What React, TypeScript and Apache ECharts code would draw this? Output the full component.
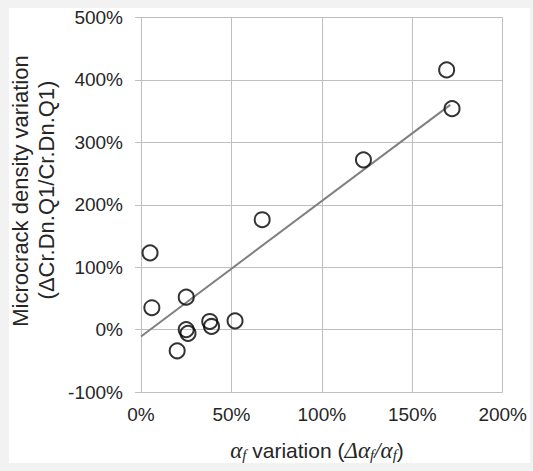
import React, { useEffect, useRef } from "react";
import * as echarts from "echarts";

const xValues = [5, 6, 25, 25, 26, 20, 38, 39, 52, 67, 123, 169, 172];
const yValues = [123, 35, 52, 0, -6, -34, 13, 5, 14, 176, 272, 416, 354];
const trendX = [0, 171];
const trendY = [-11, 360];
const xTicks = { min: 0, max: 200, interval: 50 };
const yTicks = { min: -100, max: 500, interval: 100 };

export default function App() {
  const ref = useRef<HTMLDivElement>(null);
  useEffect(() => {
    if (!ref.current) return;
    const chart = echarts.init(ref.current, null, { renderer: "svg" });
    const font = "'Liberation Sans', Arial, sans-serif";
    const serif = "'Liberation Serif', 'Times New Roman', serif";
    const gridColor = "#bfbfbf";
    chart.setOption({
      animation: false,
      backgroundColor: "#ffffff",
      grid: { left: 132, right: 22, top: 9, bottom: 71, containLabel: false },
      xAxis: {
        type: "value",
        min: xTicks.min,
        max: xTicks.max,
        interval: xTicks.interval,
        axisLine: { show: false },
        axisTick: { show: false },
        splitLine: { show: true, lineStyle: { color: gridColor, width: 1 } },
        axisLabel: {
          formatter: "{value}%",
          fontFamily: font,
          fontSize: 19,
          color: "#262626",
          margin: 13,
        },
      },
      yAxis: {
        type: "value",
        min: yTicks.min,
        max: yTicks.max,
        interval: yTicks.interval,
        axisLine: { show: true, lineStyle: { color: gridColor, width: 1 } },
        axisTick: { show: true, length: 6, lineStyle: { color: gridColor } },
        splitLine: { show: true, lineStyle: { color: gridColor, width: 1 } },
        axisLabel: {
          formatter: "{value}%",
          fontFamily: font,
          fontSize: 19,
          color: "#262626",
          margin: 18,
        },
      },
      graphic: [
        {
          type: "text",
          x: 11,
          y: 183,
          rotation: Math.PI / 2,
          style: {
            text: "Microcrack density variation",
            fontFamily: font,
            fontSize: 22,
            fill: "#262626",
            textAlign: "center",
            textVerticalAlign: "middle",
          },
        },
        {
          type: "text",
          x: 37,
          y: 182,
          rotation: Math.PI / 2,
          style: {
            text: "(ΔCr.Dn.Q1/Cr.Dn.Q1)",
            fontFamily: font,
            fontSize: 22,
            fill: "#262626",
            textAlign: "center",
            textVerticalAlign: "middle",
          },
        },
        {
          type: "text",
          x: 308,
          y: 442,
          style: {
            text:
              "{a|α}{s|f}{n| variation (}{a|Δα}{s|f}{a|/α}{s|f}{n|)}",
            textAlign: "center",
            textVerticalAlign: "middle",
            fill: "#262626",
            rich: {
              a: { fontFamily: serif, fontStyle: "italic", fontSize: 23, fill: "#262626" },
              s: {
                fontFamily: serif,
                fontStyle: "italic",
                fontSize: 15,
                fill: "#262626",
                padding: [9, 0, 0, 0],
              },
              n: { fontFamily: font, fontSize: 21, fill: "#262626" },
            },
          },
        },
      ],
      series: [
        {
          type: "line",
          data: trendX.map((x, i) => [x, trendY[i]]),
          symbol: "none",
          lineStyle: { color: "#808080", width: 2 },
          z: 2,
        },
        {
          type: "scatter",
          data: xValues.map((x, i) => [x, yValues[i]]),
          symbol: "circle",
          symbolSize: 15,
          itemStyle: { color: "rgba(0,0,0,0)", borderColor: "#000000", borderWidth: 2 },
          z: 3,
        },
      ],
    });
    return () => chart.dispose();
  }, []);
  return (
    <div
      style={{
        position: "absolute",
        left: 0,
        top: 0,
        width: 533,
        height: 471,
        background: "#f2f2f2",
      }}
    >
      <div
        ref={ref}
        style={{ position: "absolute", left: 9, top: 8, width: 521, height: 455 }}
      />
    </div>
  );
}
